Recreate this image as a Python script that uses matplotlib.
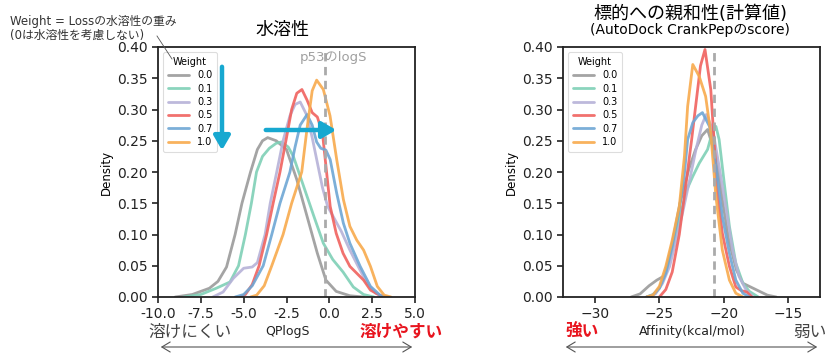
import matplotlib
matplotlib.use("Agg")
import matplotlib.pyplot as plt
from matplotlib.lines import Line2D

plt.rcParams["font.family"] = ["DejaVu Sans", "Noto Sans CJK JP"]

WEIGHTS = ["0.0", "0.1", "0.3", "0.5", "0.7", "1.0"]
COLORS = ["#9a9a9a", "#7fd0b6", "#b6b2d8", "#f0625e", "#6ea6d4", "#f8aa4c"]

# ---- solubility (QPlogS) density curves ----
sol_x = [
    [-9.0, -8.0, -7.5, -7.0, -6.5, -6.0, -5.5, -5.1, -4.6, -4.2, -3.9, -3.6, -3.1, -2.5, -1.9, -1.3, -0.7, -0.2, 0.4, 1.2, 2.0],
    [-8.5, -7.5, -6.6, -5.8, -5.3, -4.9, -4.55, -4.25, -3.9, -3.5, -3.1, -2.8, -2.4, -2.1, -1.5, -0.9, -0.35, 0.2, 0.8, 1.4, 2.0, 2.6],
    [-6.8, -6.2, -5.6, -5.0, -4.5, -4.2, -3.75, -3.45, -3.07, -2.7, -2.3, -2.0, -1.7, -1.3, -1.0, -0.7, -0.4, -0.1, 0.3, 0.7, 1.2, 1.7, 2.2, 2.7, 3.2],
    [-5.2, -4.9, -4.5, -4.1, -3.66, -3.28, -2.88, -2.5, -2.2, -1.9, -1.6, -1.3, -1.0, -0.7, -0.4, -0.2, 0.05, 0.4, 0.8, 1.2, 1.6, 2.0, 2.4, 3.0, 3.4],
    [-5.5, -5.0, -4.5, -3.86, -3.36, -2.88, -2.3, -2.0, -1.7, -1.3, -1.0, -0.74, -0.5, -0.2, 0.05, 0.43, 0.82, 1.2, 1.8, 2.4, 3.0, 3.4],
    [-4.6, -4.24, -3.8, -3.36, -2.7, -2.2, -1.61, -1.3, -1.0, -0.74, -0.35, 0.04, 0.43, 0.82, 1.2, 1.6, 2.0, 2.4, 2.8, 3.2, 3.6],
]
sol_y = [
    [0.000, 0.004, 0.009, 0.014, 0.025, 0.048, 0.100, 0.150, 0.200, 0.236, 0.250, 0.255, 0.250, 0.236, 0.188, 0.129, 0.070, 0.027, 0.009, 0.002, 0.000],
    [0.000, 0.004, 0.014, 0.024, 0.050, 0.100, 0.150, 0.200, 0.225, 0.238, 0.246, 0.248, 0.240, 0.225, 0.177, 0.129, 0.086, 0.060, 0.040, 0.016, 0.004, 0.000],
    [0.000, 0.008, 0.030, 0.046, 0.048, 0.055, 0.100, 0.150, 0.200, 0.250, 0.290, 0.308, 0.312, 0.290, 0.255, 0.215, 0.175, 0.145, 0.125, 0.105, 0.075, 0.048, 0.022, 0.006, 0.000],
    [0.000, 0.004, 0.020, 0.050, 0.100, 0.150, 0.200, 0.255, 0.300, 0.326, 0.332, 0.315, 0.295, 0.288, 0.262, 0.210, 0.145, 0.102, 0.070, 0.049, 0.038, 0.027, 0.011, 0.002, 0.000],
    [0.000, 0.004, 0.018, 0.050, 0.100, 0.150, 0.200, 0.240, 0.275, 0.292, 0.275, 0.248, 0.238, 0.235, 0.220, 0.166, 0.118, 0.086, 0.049, 0.017, 0.002, 0.000],
    [0.000, 0.003, 0.018, 0.050, 0.100, 0.150, 0.200, 0.270, 0.330, 0.347, 0.332, 0.290, 0.220, 0.156, 0.113, 0.091, 0.075, 0.049, 0.017, 0.003, 0.000],
]

# ---- affinity density curves ----
aff_x = [
    [-27.2, -26.5, -25.8, -25.2, -24.6, -24.0, -23.4, -22.7, -22.2, -21.7, -21.25, -20.6, -20.1, -19.6, -19.0, -18.5, -17.8, -17.2, -16.6, -15.9],
    [-26.0, -25.5, -25.0, -24.5, -24.0, -23.45, -22.9, -22.4, -21.9, -21.25, -20.9, -20.6, -20.35, -19.95, -19.55, -19.05, -18.5, -18.0, -17.3],
    [-26.0, -25.3, -24.75, -24.2, -23.7, -23.2, -22.7, -22.15, -21.7, -21.35, -20.85, -20.35, -19.8, -19.3, -18.8, -18.25, -17.7],
    [-25.0, -24.5, -24.0, -23.45, -23.0, -22.5, -22.15, -21.8, -21.45, -21.0, -20.75, -20.5, -20.1, -19.55, -19.05, -18.6, -18.2, -17.8],
    [-26.0, -25.5, -25.0, -24.5, -24.0, -23.45, -23.05, -22.8, -22.4, -22.0, -21.65, -21.1, -20.6, -20.1, -19.55, -19.05, -18.5, -18.0],
    [-26.0, -25.5, -25.0, -24.5, -24.0, -23.45, -23.05, -22.8, -22.4, -21.9, -21.4, -21.0, -20.6, -20.1, -19.55, -19.05, -18.5],
]
aff_y = [
    [0.000, 0.005, 0.018, 0.027, 0.034, 0.085, 0.150, 0.205, 0.235, 0.258, 0.268, 0.225, 0.156, 0.091, 0.043, 0.022, 0.015, 0.009, 0.003, 0.000],
    [0.000, 0.004, 0.014, 0.038, 0.075, 0.124, 0.170, 0.193, 0.214, 0.236, 0.262, 0.273, 0.252, 0.182, 0.113, 0.054, 0.022, 0.009, 0.000],
    [0.000, 0.005, 0.022, 0.049, 0.091, 0.134, 0.182, 0.236, 0.275, 0.292, 0.268, 0.209, 0.140, 0.075, 0.033, 0.011, 0.000],
    [0.000, 0.012, 0.040, 0.100, 0.170, 0.250, 0.310, 0.370, 0.396, 0.332, 0.252, 0.172, 0.102, 0.049, 0.016, 0.010, 0.008, 0.000],
    [0.000, 0.003, 0.014, 0.038, 0.081, 0.140, 0.198, 0.252, 0.279, 0.290, 0.295, 0.273, 0.209, 0.129, 0.070, 0.027, 0.006, 0.000],
    [0.000, 0.003, 0.017, 0.049, 0.091, 0.145, 0.225, 0.305, 0.372, 0.353, 0.321, 0.262, 0.161, 0.075, 0.027, 0.006, 0.000],
]

P53_LOGS = -0.27
P53_AFFINITY = -20.78

W, H = 826, 354


def fx(px):
    return px / W


def fy(py):
    return 1 - py / H


def draw_panel(ax, xs, ys, vline, xlim, xticks):
    for x, y, c, w in zip(xs, ys, COLORS, WEIGHTS):
        ax.plot(x, y, color=c, lw=2, alpha=0.9, label=w, solid_capstyle="round")
    ax.axvline(vline, color="#aaaaaa", lw=2, ls=(0, (3, 2)))
    ax.set_xlim(*xlim)
    ax.set_ylim(0, 0.40)
    ax.set_xticks(xticks)
    ax.set_yticks([0, 0.05, 0.10, 0.15, 0.20, 0.25, 0.30, 0.35, 0.40])
    ax.yaxis.set_major_formatter(matplotlib.ticker.FormatStrFormatter("%.2f"))
    ax.tick_params(labelsize=10, length=4, width=1.2, colors="#222222")
    for s in ax.spines.values():
        s.set_linewidth(1.3)
        s.set_color("#222222")
    ax.set_ylabel("Density", fontsize=8.5, labelpad=3)
    leg = ax.legend(title="Weight", loc="upper left", fontsize=7, title_fontsize=7,
                    handlelength=2.2, labelspacing=0.35, borderpad=0.5,
                    framealpha=1, edgecolor="#dddddd")
    leg.get_frame().set_linewidth(0.8)


fig = plt.figure(figsize=(W / 100, H / 100), dpi=100)

ax1 = fig.add_axes([fx(158), fy(297), fx(257), 250 / H])
draw_panel(ax1, sol_x, sol_y, P53_LOGS, (-10, 5), [-10, -7.5, -5, -2.5, 0, 2.5, 5])
ax1.xaxis.set_major_formatter(matplotlib.ticker.FormatStrFormatter("%.1f"))
ax1.text(-1.72, 0.383, "p53のlogS", color="#a0a0a0", fontsize=9.5, va="center", ha="left")

ax2 = fig.add_axes([fx(563), fy(297), fx(257), 250 / H])
draw_panel(ax2, aff_x, aff_y, P53_AFFINITY, (-32.5, -12.5), [-30, -25, -20, -15])

# titles
fig.text(fx(282), fy(30), "水溶性", fontsize=13, ha="center", va="center")
fig.text(fx(690), fy(14), "標的への親和性(計算値)", fontsize=13, ha="center", va="center")
fig.text(fx(690), fy(30), "(AutoDock CrankPepのscore)", fontsize=10, ha="center", va="center")

# note on weight
fig.text(fx(10), fy(21), "Weight = Lossの水溶性の重み", fontsize=8.5, ha="left", va="center", color="#333333")
fig.text(fx(10), fy(35), "(0は水溶性を考慮しない)", fontsize=8.5, ha="left", va="center", color="#333333")
fig.add_artist(Line2D([fx(157), fx(172)], [fy(36), fy(59)], color="#555555", lw=0.6))

# cyan arrows
cyan = "#17a8d0"
fig.add_artist(matplotlib.patches.FancyArrowPatch(
    (fx(222), fy(64)), (fx(222), fy(153)), transform=fig.transFigure,
    arrowstyle="-|>,head_length=0.6,head_width=0.35", mutation_scale=14, color=cyan, lw=3.2))
fig.add_artist(matplotlib.patches.FancyArrowPatch(
    (fx(263), fy(130)), (fx(339), fy(130)), transform=fig.transFigure,
    arrowstyle="-|>,head_length=0.6,head_width=0.35", mutation_scale=14, color=cyan, lw=3.2))

# axis labels with direction hints
fig.text(fx(148), fy(332), "溶けにくい", fontsize=12, ha="left", va="center", color="#444444")
fig.text(fx(287), fy(332), "QPlogS", fontsize=9, ha="center", va="center", color="#222222")
fig.text(fx(360), fy(332), "溶けやすい", fontsize=12, ha="left", va="center", color="#e8141e", fontweight="bold")

fig.text(fx(565), fy(332), "強い", fontsize=12, ha="left", va="center", color="#e8141e", fontweight="bold")
fig.text(fx(692), fy(332), "Affinity(kcal/mol)", fontsize=9, ha="center", va="center", color="#222222")
fig.text(fx(793), fy(332), "弱い", fontsize=12, ha="left", va="center", color="#444444")

for a, b in [(158, 415), (563, 820)]:
    fig.add_artist(matplotlib.patches.FancyArrowPatch(
        (fx(a), fy(347)), (fx(b), fy(347)), transform=fig.transFigure,
        arrowstyle="<->,head_length=0.5,head_width=0.3", mutation_scale=12, color="#555555", lw=0.8))

fig.savefig("out.png", dpi=100)
